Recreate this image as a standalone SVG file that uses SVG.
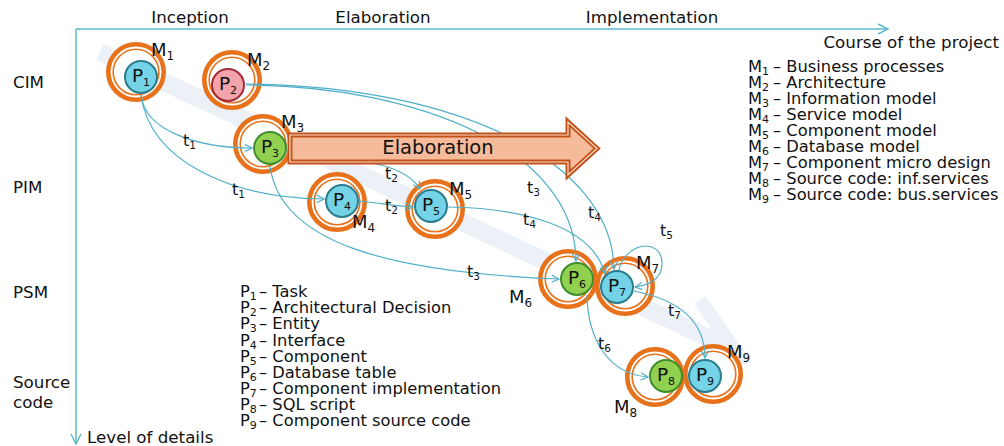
<svg xmlns="http://www.w3.org/2000/svg" width="1004" height="446" viewBox="0 0 1004 446">
  <style>
    text { font-family: "DejaVu Sans", "Liberation Sans", sans-serif; fill: #111; }
    .lbl { font-size: 16.7px; }
    .leg { font-size: 16.3px; }
    .sub { font-size: 11px; }
    .ml { font-size: 18px; }
    .msub { font-size: 12px; }
    .tl { font-size: 16px; }
    .tsub { font-size: 10.5px; }
    .pl { font-size: 18.5px; }
    .axis { fill: none; stroke: #5DB8CE; stroke-width: 1.5; }
    .conn { fill: none; stroke: #4FAFC8; stroke-width: 1.2; }
    .ring { fill: #fff; stroke: #E8721C; stroke-width: 4.6; }
    .ring2 { fill: none; stroke: #E8721C; stroke-width: 1.6; }
    .pb { fill: #74D3E6; stroke: #2B7C8C; stroke-width: 2; }
    .pg { fill: #92D050; stroke: #3E8E2E; stroke-width: 2; }
    .pr { fill: #F2A3AC; stroke: #A22D3A; stroke-width: 2; }
  </style>
  <defs>
    <marker id="ah" viewBox="0 0 10 10" refX="9" refY="5" markerWidth="9" markerHeight="9" markerUnits="userSpaceOnUse" orient="auto">
      <path d="M1,1 L9,5 L1,9" fill="none" stroke="#4FAFC8" stroke-width="1.3"/>
    </marker>
    <marker id="axh" viewBox="0 0 12 12" refX="11" refY="6" markerWidth="12" markerHeight="12" markerUnits="userSpaceOnUse" orient="auto">
      <path d="M1,1 L11,6 L1,11" fill="none" stroke="#5DB8CE" stroke-width="1.4"/>
    </marker>
  </defs>

  <rect width="1004" height="446" fill="#fff"/>

  <!-- progress band running diagonally behind the models -->
  <g id="band" fill="none" stroke="#ECF1F8" stroke-width="18">
    <path d="M100,52 L728,347"/>
    <path d="M700,300 L740,358 L682,372" stroke-width="14" stroke-linejoin="miter"/>
  </g>

  <!-- axes -->
  <g id="axes">
    <path class="axis" d="M76,29 L888,29" marker-end="url(#axh)"/>
    <path class="axis" d="M76,29 L76,444" marker-end="url(#axh)"/>
    <text class="lbl" x="190" y="23" text-anchor="middle">Inception</text>
    <text class="lbl" x="383" y="23" text-anchor="middle">Elaboration</text>
    <text class="lbl" x="652" y="23" text-anchor="middle">Implementation</text>
    <text class="lbl" x="999" y="48" text-anchor="end">Course of the project</text>
    <text class="lbl" x="87" y="443">Level of details</text>
    <text class="lbl" x="13" y="88">CIM</text>
    <text class="lbl" x="13" y="193">PIM</text>
    <text class="lbl" x="13" y="298">PSM</text>
    <text class="lbl" x="13" y="388">Source</text>
    <text class="lbl" x="13" y="408">code</text>
  </g>

  <!-- model rings -->
  <g id="rings">
    <g id="ring-m1"><circle class="ring" cx="136" cy="72" r="27.7"/><circle class="ring2" cx="136" cy="72" r="22.8"/></g>
    <g id="ring-m2"><circle class="ring" cx="232" cy="80" r="27.7"/><circle class="ring2" cx="232" cy="80" r="22.8"/></g>
    <g id="ring-m3"><circle class="ring" cx="263" cy="144" r="27.7"/><circle class="ring2" cx="263" cy="144" r="22.8"/></g>
    <g id="ring-m4"><circle class="ring" cx="337" cy="202" r="27.7"/><circle class="ring2" cx="337" cy="202" r="22.8"/></g>
    <g id="ring-m5"><circle class="ring" cx="435" cy="209" r="27.7"/><circle class="ring2" cx="435" cy="209" r="22.8"/></g>
    <g id="ring-m6"><circle class="ring" cx="568" cy="279" r="27.7"/><circle class="ring2" cx="568" cy="279" r="22.8"/></g>
    <g id="ring-m7"><circle class="ring" cx="625" cy="286" r="27.7"/><circle class="ring2" cx="625" cy="286" r="22.8"/></g>
    <g id="ring-m8"><circle class="ring" cx="655" cy="377" r="27.7"/><circle class="ring2" cx="655" cy="377" r="22.8"/></g>
    <g id="ring-m9"><circle class="ring" cx="713" cy="374" r="27.7"/><circle class="ring2" cx="713" cy="374" r="22.8"/></g>
  </g>

  <!-- transformations -->
  <g id="connectors">
    <path class="conn" d="M141,95 C145,132 200,148 252,148" marker-end="url(#ah)"/>
    <path class="conn" d="M141,95 C150,162 232,198 324,199" marker-end="url(#ah)"/>
    <path class="conn" d="M246,85 C420,86 575,150 576,261" marker-end="url(#ah)"/>
    <path class="conn" d="M246,84 C460,86 612,162 614,269" marker-end="url(#ah)"/>
    <path class="conn" d="M287,150 C330,160 400,156 420,189" marker-end="url(#ah)"/>
    <path class="conn" d="M359,201 C380,203 395,206 413,207" marker-end="url(#ah)"/>
    <path class="conn" d="M270,166 C280,242 385,272 559,279" marker-end="url(#ah)"/>
    <path class="conn" d="M448,207 C520,208 592,225 605,274" marker-end="url(#ah)"/>
    <path class="conn" d="M619,270 C624,244 660,236 662,262 C663,278 650,285 635,287" marker-end="url(#ah)"/>
    <path class="conn" d="M587,295 C588,342 610,374 648,377" marker-end="url(#ah)"/>
    <path class="conn" d="M634,291 C680,300 705,322 705,358" marker-end="url(#ah)"/>
  </g>

  <!-- phase arrow -->
  <g id="elaboration-arrow">
    <path d="M290,135 L568,135 L568,122 L597,148.5 L568,175 L568,162 L290,162 Z" fill="#F5BB9B" stroke="#C25218" stroke-width="5" stroke-linejoin="miter"/>
    <path d="M290,135 L568,135 L568,122 L597,148.5 L568,175 L568,162 L290,162 Z" fill="none" stroke="#FBDCC9" stroke-width="1.2"/>
    <text x="438" y="154" text-anchor="middle" style="font-size:19.5px">Elaboration</text>
  </g>

  <!-- elements -->
  <g id="p1"><circle class="pb" cx="141" cy="77" r="16"/><text class="pl" x="141" y="82" text-anchor="middle">P<tspan class="sub" dy="4">1</tspan></text></g>
  <g id="p2"><circle class="pr" cx="228" cy="85" r="16"/><text class="pl" x="228" y="90" text-anchor="middle">P<tspan class="sub" dy="4">2</tspan></text></g>
  <g id="p3"><circle class="pg" cx="270" cy="148" r="16"/><text class="pl" x="270" y="153" text-anchor="middle">P<tspan class="sub" dy="4">3</tspan></text></g>
  <g id="p4"><circle class="pb" cx="342" cy="201" r="16"/><text class="pl" x="342" y="206" text-anchor="middle">P<tspan class="sub" dy="4">4</tspan></text></g>
  <g id="p5"><circle class="pb" cx="431" cy="206" r="16"/><text class="pl" x="431" y="211" text-anchor="middle">P<tspan class="sub" dy="4">5</tspan></text></g>
  <g id="p6"><circle class="pg" cx="577" cy="279" r="16"/><text class="pl" x="577" y="284" text-anchor="middle">P<tspan class="sub" dy="4">6</tspan></text></g>
  <g id="p7"><circle class="pb" cx="617" cy="287" r="16"/><text class="pl" x="617" y="292" text-anchor="middle">P<tspan class="sub" dy="4">7</tspan></text></g>
  <g id="p8"><circle class="pg" cx="666" cy="376" r="16"/><text class="pl" x="666" y="381" text-anchor="middle">P<tspan class="sub" dy="4">8</tspan></text></g>
  <g id="p9"><circle class="pb" cx="705" cy="376" r="16"/><text class="pl" x="705" y="381" text-anchor="middle">P<tspan class="sub" dy="4">9</tspan></text></g>

  <!-- model labels -->
  <g id="model-labels">
    <text class="ml" x="151" y="56">M<tspan class="msub" dy="4">1</tspan></text>
    <text class="ml" x="247" y="66">M<tspan class="msub" dy="4">2</tspan></text>
    <text class="ml" x="281" y="128">M<tspan class="msub" dy="4">3</tspan></text>
    <text class="ml" x="352" y="228">M<tspan class="msub" dy="4">4</tspan></text>
    <text class="ml" x="449" y="195">M<tspan class="msub" dy="4">5</tspan></text>
    <text class="ml" x="509" y="303">M<tspan class="msub" dy="4">6</tspan></text>
    <text class="ml" x="636" y="269">M<tspan class="msub" dy="4">7</tspan></text>
    <text class="ml" x="614" y="413">M<tspan class="msub" dy="4">8</tspan></text>
    <text class="ml" x="727" y="358">M<tspan class="msub" dy="4">9</tspan></text>
  </g>

  <!-- transformation labels -->
  <g id="t-labels">
    <text class="tl" x="183" y="146">t<tspan class="tsub" dy="3">1</tspan></text>
    <text class="tl" x="232" y="195">t<tspan class="tsub" dy="3">1</tspan></text>
    <text class="tl" x="385" y="179">t<tspan class="tsub" dy="3">2</tspan></text>
    <text class="tl" x="385" y="211">t<tspan class="tsub" dy="3">2</tspan></text>
    <text class="tl" x="527" y="193">t<tspan class="tsub" dy="3">3</tspan></text>
    <text class="tl" x="467" y="277">t<tspan class="tsub" dy="3">3</tspan></text>
    <text class="tl" x="588" y="218">t<tspan class="tsub" dy="3">4</tspan></text>
    <text class="tl" x="523" y="225">t<tspan class="tsub" dy="3">4</tspan></text>
    <text class="tl" x="660" y="236">t<tspan class="tsub" dy="3">5</tspan></text>
    <text class="tl" x="598" y="349">t<tspan class="tsub" dy="3">6</tspan></text>
    <text class="tl" x="668" y="316">t<tspan class="tsub" dy="3">7</tspan></text>
  </g>

  <!-- model legend -->
  <g id="model-legend">
    <text class="leg" x="748" y="72">M<tspan class="sub" dy="3">1</tspan><tspan x="773" dy="-3">– Business processes</tspan></text>
    <text class="leg" x="748" y="88">M<tspan class="sub" dy="3">2</tspan><tspan x="773" dy="-3">–  Architecture</tspan></text>
    <text class="leg" x="748" y="104">M<tspan class="sub" dy="3">3</tspan><tspan x="773" dy="-3">– Information model</tspan></text>
    <text class="leg" x="748" y="120">M<tspan class="sub" dy="3">4</tspan><tspan x="773" dy="-3">– Service model</tspan></text>
    <text class="leg" x="748" y="136">M<tspan class="sub" dy="3">5</tspan><tspan x="773" dy="-3">– Component model</tspan></text>
    <text class="leg" x="748" y="152">M<tspan class="sub" dy="3">6</tspan><tspan x="773" dy="-3">– Database model</tspan></text>
    <text class="leg" x="748" y="168">M<tspan class="sub" dy="3">7</tspan><tspan x="773" dy="-3">– Component micro design</tspan></text>
    <text class="leg" x="748" y="184">M<tspan class="sub" dy="3">8</tspan><tspan x="773" dy="-3">– Source code: inf.services</tspan></text>
    <text class="leg" x="748" y="200">M<tspan class="sub" dy="3">9</tspan><tspan x="773" dy="-3">– Source code: bus.services</tspan></text>
  </g>

  <!-- element legend -->
  <g id="element-legend">
    <text class="leg" x="240" y="297">P<tspan class="sub" dy="3">1</tspan><tspan x="259" dy="-3">– Task</tspan></text>
    <text class="leg" x="240" y="313">P<tspan class="sub" dy="3">2</tspan><tspan x="259" dy="-3">– Architectural Decision</tspan></text>
    <text class="leg" x="240" y="329">P<tspan class="sub" dy="3">3</tspan><tspan x="259" dy="-3">– Entity</tspan></text>
    <text class="leg" x="240" y="346">P<tspan class="sub" dy="3">4</tspan><tspan x="259" dy="-3">– Interface</tspan></text>
    <text class="leg" x="240" y="362">P<tspan class="sub" dy="3">5</tspan><tspan x="259" dy="-3">– Component</tspan></text>
    <text class="leg" x="240" y="378">P<tspan class="sub" dy="3">6</tspan><tspan x="259" dy="-3">– Database table</tspan></text>
    <text class="leg" x="240" y="394">P<tspan class="sub" dy="3">7</tspan><tspan x="259" dy="-3">– Component implementation</tspan></text>
    <text class="leg" x="240" y="410">P<tspan class="sub" dy="3">8</tspan><tspan x="259" dy="-3">– SQL script</tspan></text>
    <text class="leg" x="240" y="426">P<tspan class="sub" dy="3">9</tspan><tspan x="259" dy="-3">– Component source code</tspan></text>
  </g>
</svg>
